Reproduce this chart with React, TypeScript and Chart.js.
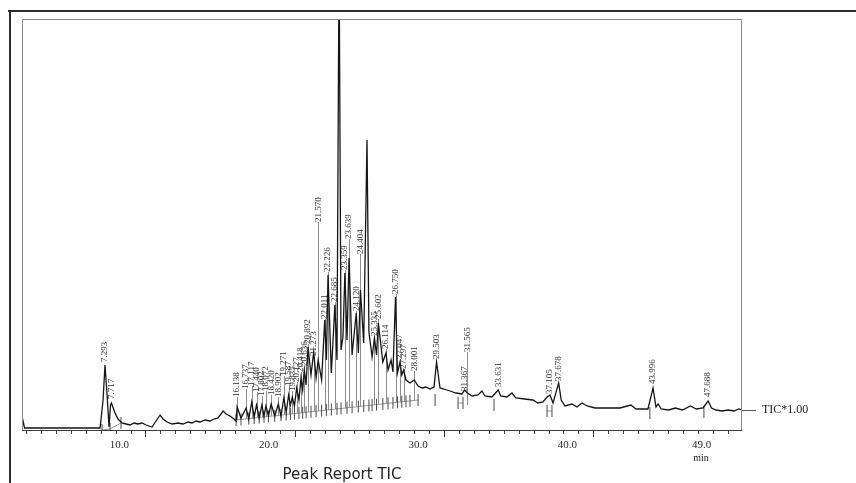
import { useEffect, useRef } from 'react';
import { Chart, registerables } from 'chart.js';

Chart.register(...registerables);

// ---- trace (retention time in min, intensity in arbitrary units) ----
const traceT = [
  1.73, 1.80, 1.90, 4.28, 6.96, 7.16, 7.29, 7.43, 7.56, 7.66, 7.72, 7.96, 8.16, 8.43, 8.70, 8.97, 9.24, 9.50, 9.77,
  10.04, 10.44, 10.71, 10.98, 11.18, 11.45, 11.78, 12.18, 12.52, 12.85, 13.12, 13.39, 13.65, 13.99, 14.33, 14.59,
  14.86, 15.06, 15.20, 15.40, 15.67, 15.93,
  16.07, 16.14, 16.40, 16.74, 16.92, 17.12, 17.28, 17.44, 17.62, 17.80, 17.94, 18.07, 18.24, 18.42, 18.66, 18.90,
  19.08, 19.27, 19.43, 19.59, 19.71, 19.84, 19.98, 20.13, 20.28, 20.42, 20.53, 20.64, 20.76, 20.89, 21.09, 21.27,
  21.43, 21.57, 21.80, 22.01, 22.12, 22.23, 22.45, 22.69, 22.83, 22.97, 23.10, 23.23, 23.36, 23.50, 23.64, 23.84,
  24.12, 24.26, 24.40, 24.62, 24.84, 24.97, 25.18, 25.34, 25.48, 25.60, 25.90, 26.11, 26.25, 26.45, 26.58, 26.75,
  26.88, 27.05, 27.17, 27.30, 27.45, 27.72, 28.00, 28.26, 28.53, 28.79, 29.06, 29.33, 29.50, 29.73, 30.00, 30.40,
  30.80, 31.20, 31.37, 31.57, 31.88, 32.28, 32.54, 32.74, 33.21, 33.63, 33.80, 34.21, 34.55, 34.81, 35.41, 35.95,
  36.29, 36.63, 36.90, 37.10, 37.30, 37.68, 37.85, 38.10, 38.57, 38.91, 39.24, 39.58, 40.11, 41.12, 41.79, 42.52,
  42.86, 43.66, 44.00, 44.20, 44.34, 44.55, 45.03, 45.50, 45.97, 46.50, 46.90, 47.35, 47.69, 47.92, 48.22, 48.62,
  49.02, 49.42, 49.75, 49.96,
];
const traceV = [
  2, 9, 2, 2, 2, 30, 65, 35, 3, 25, 27, 17, 11, 7, 6, 5, 7, 6, 7,
  5, 3, 9, 15, 11, 8, 6, 7, 6, 8, 7, 9, 8, 10, 9, 11,
  12, 16, 19, 16, 14, 11,
  9, 23, 12, 22, 11, 28, 13, 25, 12, 25, 14, 24, 14, 26, 14, 26,
  14, 32, 18, 35, 25, 33, 24, 42, 30, 52, 40, 60, 45, 83, 55, 78,
  52, 70, 50, 110, 70, 155, 57, 125, 70, 480, 80, 93, 157, 90, 172, 75,
  117, 77, 140, 87, 290, 98, 73, 92, 75, 107, 68, 77, 60, 70, 58, 133,
  57, 68, 55, 60, 50, 47, 50, 44, 42, 43, 41, 43, 68, 42, 41, 39,
  37, 36, 40, 37, 34, 35, 39, 34, 33, 40, 34, 33, 37, 32, 31, 30,
  27, 28, 33, 35, 27, 47, 30, 24, 26, 23, 27, 24, 22, 22, 22, 25,
  21, 21, 42, 23, 26, 21, 20, 22, 20, 24, 21, 22, 29, 22, 20, 19,
  20, 19, 21, 20,
];

// ---- integration baseline marks (null separates segments) ----
const baseT = [
  7.09, 7.63, 8.36, null,
  16.07, 16.40, 16.92, 17.28, 17.62, 17.94, 18.24, 18.66, 19.08, 19.43, 19.71, 19.98, 20.28, 20.53, 20.76, 21.09,
  21.43, 21.80, 22.12, 22.45, 22.83, 23.10, 23.50, 23.84, 24.26, 24.62, 24.97, 25.18, 25.48, 25.90, 26.25, 26.58,
  26.88, 27.17, 27.45, 27.72, 28.26, null,
  29.40, null, 30.94, 31.27, null, 33.35, null, 36.90, 37.23, null, 43.79, null, 47.41,
];
const baseV = [
  0, 1, 7, null,
  10, 10.5, 11.4, 12, 12.5, 13.1, 13.6, 14.2, 14.9, 15.5, 16, 16.4, 16.9, 17.3, 17.7, 18.2,
  18.8, 19.4, 19.9, 20.5, 21.1, 21.5, 22.2, 22.7, 23.4, 24, 24.6, 24.9, 25.4, 26.1, 26.7, 27.2,
  27.7, 28.2, 28.7, 29.1, 30, null,
  30, null, 27, 27, null, 25, null, 19, 19, null, 17, null, 18,
];

// ---- peak labels ----
const peakLabels = [
  '7.293', '7.717', '16.138', '16.737', '17.117', '17.440', '17.802', '18.072', '18.420', '18.902', '19.271',
  '19.587', '19.835', '20.127', '20.418', '20.636', '20.892', '21.273', '21.570', '22.011', '22.226', '22.685',
  '23.359', '23.639', '24.120', '24.404', '25.335', '25.602', '26.114', '26.750', '27.047', '27.297', '28.001',
  '29.503', '31.367', '31.565', '33.631', '37.105', '37.678', '43.996', '47.688',
];
const peakTimes = [
  7.293, 7.717, 16.138, 16.737, 17.117, 17.44, 17.802, 18.072, 18.42, 18.902, 19.271,
  19.587, 19.835, 20.127, 20.418, 20.636, 20.892, 21.273, 21.57, 22.011, 22.226, 22.685,
  23.359, 23.639, 24.12, 24.404, 25.335, 25.602, 26.114, 26.75, 27.047, 27.297, 28.001,
  29.503, 31.367, 31.565, 33.631, 37.105, 37.678, 43.996, 47.688,
];
const labelBase = [
  67, 30, 32, 40, 43, 37, 33, 38, 34, 32, 53,
  43, 38, 47, 57, 63, 85, 73, 207, 110, 157, 127,
  159, 190, 118, 175, 93, 110, 80, 135, 70, 60, 58,
  70, 38, 77, 42, 35, 48, 45, 32,
];
const leaderFoot = [
  null, null, 10, 11, 12, 12, 13, 13, 14, 15, 15,
  16, 16, 17, 17, 18, 18, 19, 19, 20, 20, 21,
  22, 22, 23, 24, 25, 26, 26, 27, 28, 28, 29,
  null, null, 25, null, null, null, null, null,
];

// ---- axis ----
const axisTicks = [2, 3, 4, 5, 6, 7, 8, 9, 10, 11, 12, 13, 14, 15, 16, 17, 18, 19, 20, 21, 22, 23, 24, 25, 26, 27,
  28, 29, 30, 31, 32, 33, 34, 35, 36, 37, 38, 39, 40, 41, 42, 43, 44, 45, 46, 47, 48, 49];
const labelTicks = [10, 20, 30, 40, 49];
const labelTexts = ['10.0', '20.0', '30.0', '40.0', '49.0'];
const majorTicks = [10, 20, 30, 40];

const SERIF = '"Liberation Serif", "Times New Roman", serif';

const peakPlugin = {
  id: 'peakDeco',
  beforeDatasetsDraw(chart: any) {
    const { ctx, scales, chartArea } = chart;
    const x = scales.x, y = scales.y;
    ctx.save();
    ctx.beginPath();
    ctx.rect(chartArea.left, chartArea.top, chartArea.right - chartArea.left, chartArea.bottom - chartArea.top);
    ctx.clip();
    ctx.strokeStyle = '#8c8c8c';
    ctx.lineWidth = 1;
    for (let i = 0; i < peakTimes.length; i++) {
      const f = leaderFoot[i];
      if (f === null) continue;
      const px = Math.round(x.getPixelForValue(peakTimes[i])) + 0.5;
      ctx.beginPath();
      ctx.moveTo(px, y.getPixelForValue(labelBase[i]) - 1);
      ctx.lineTo(px, y.getPixelForValue(f as number));
      ctx.stroke();
    }
    ctx.restore();
  },
  afterDatasetsDraw(chart: any) {
    const { ctx, scales } = chart;
    const x = scales.x, y = scales.y;
    ctx.save();
    ctx.fillStyle = '#333';
    ctx.font = `9px ${SERIF}`;
    ctx.textAlign = 'left';
    ctx.textBaseline = 'middle';
    for (let i = 0; i < peakTimes.length; i++) {
      const px = x.getPixelForValue(peakTimes[i]);
      const py = y.getPixelForValue(labelBase[i]) - 1;
      ctx.save();
      ctx.translate(px, py);
      ctx.rotate(-Math.PI / 2);
      ctx.fillText(peakLabels[i], 0, 0);
      ctx.restore();
    }
    ctx.restore();
  },
  afterDraw(chart: any) {
    const { ctx, scales, chartArea } = chart;
    const x = scales.x;
    const { left, right, top, bottom } = chartArea;
    ctx.save();
    // outer frame
    ctx.fillStyle = '#2e2e2e';
    ctx.fillRect(8, 10, 848, 2);
    ctx.fillRect(9, 10, 2, 473);
    // plot box
    ctx.strokeStyle = '#8a8a8a';
    ctx.lineWidth = 1;
    ctx.beginPath();
    ctx.moveTo(left + 0.5, bottom);
    ctx.lineTo(left + 0.5, top + 0.5);
    ctx.lineTo(right - 0.5, top + 0.5);
    ctx.lineTo(right - 0.5, bottom);
    ctx.stroke();
    // axis line
    ctx.strokeStyle = '#3c3c3c';
    ctx.beginPath();
    ctx.moveTo(left, Math.round(bottom) + 0.5);
    ctx.lineTo(right, Math.round(bottom) + 0.5);
    ctx.stroke();
    // ticks
    for (const t of x.ticks) {
      const px = Math.round(x.getPixelForValue(t.value)) + 0.5;
      const len = majorTicks.includes(t.value) ? 7 : 4;
      ctx.beginPath();
      ctx.moveTo(px, Math.round(bottom));
      ctx.lineTo(px, Math.round(bottom) + len);
      ctx.stroke();
    }
    // TIC marker
    ctx.strokeStyle = '#555';
    ctx.beginPath();
    ctx.moveTo(right, 410.5);
    ctx.lineTo(right + 14, 410.5);
    ctx.stroke();
    ctx.fillStyle = '#222';
    ctx.font = `12px ${SERIF}`;
    ctx.textAlign = 'left';
    ctx.textBaseline = 'middle';
    ctx.fillText('TIC*1.00', 762, 410);
    ctx.font = `10px ${SERIF}`;
    ctx.textAlign = 'center';
    ctx.fillText('min', 701, 458);
    ctx.font = '15px "DejaVu Sans", sans-serif';
    ctx.textBaseline = 'alphabetic';
    ctx.fillText('Peak Report TIC', 342, 479);
    ctx.restore();
  },
};

export default function App() {
  const ref = useRef<HTMLCanvasElement | null>(null);
  useEffect(() => {
    if (!ref.current) return;
    const traceData = traceT.map((t, i) => ({ x: t, y: traceV[i] }));
    const baseData = baseT.map((t, i) => ({ x: t === null ? NaN : t, y: baseV[i] }));
    const chart = new Chart(ref.current, {
      type: 'line',
      data: {
        datasets: [
          {
            label: 'TIC',
            data: traceData,
            borderColor: '#151515',
            borderWidth: 1.3,
            pointRadius: 0,
            tension: 0,
            order: 1,
          },
          {
            label: 'baseline',
            data: baseData as any,
            borderColor: '#9a9a9a',
            borderWidth: 1,
            pointStyle: 'line',
            rotation: 90,
            pointRadius: 6,
            pointBorderColor: '#4a4a4a',
            pointBorderWidth: 1,
            spanGaps: false,
            tension: 0,
            order: 2,
          },
        ],
      },
      options: {
        animation: false,
        responsive: false,
        layout: { padding: { left: 22, right: 114, top: 19, bottom: 0 } },
        plugins: { legend: { display: false }, tooltip: { enabled: false }, title: { display: false } },
        scales: {
          x: {
            type: 'linear',
            min: 1.73,
            max: 49.96,
            afterBuildTicks: (s: any) => {
              s.ticks = axisTicks.map((v) => ({ value: v }));
            },
            afterFit: (s: any) => {
              s.height = 53;
            },
            grid: { display: false, drawTicks: false },
            border: { display: false },
            ticks: {
              autoSkip: false,
              maxRotation: 0,
              labelOffset: -26,
              padding: 9,
              color: '#2a2a2a',
              font: { family: SERIF, size: 11 },
              callback: (v: any) => {
                const k = labelTicks.indexOf(Number(v));
                return k >= 0 ? labelTexts[k] : '';
              },
            },
          },
          y: {
            display: false,
            min: 0,
            max: 411,
          },
        },
      },
      plugins: [peakPlugin],
    });
    return () => chart.destroy();
  }, []);
  return (
    <div style={{ position: 'fixed', left: 0, top: 0, width: 856, height: 483, background: '#fff' }}>
      <canvas ref={ref} width={856} height={483} style={{ width: 856, height: 483 }} />
    </div>
  );
}
